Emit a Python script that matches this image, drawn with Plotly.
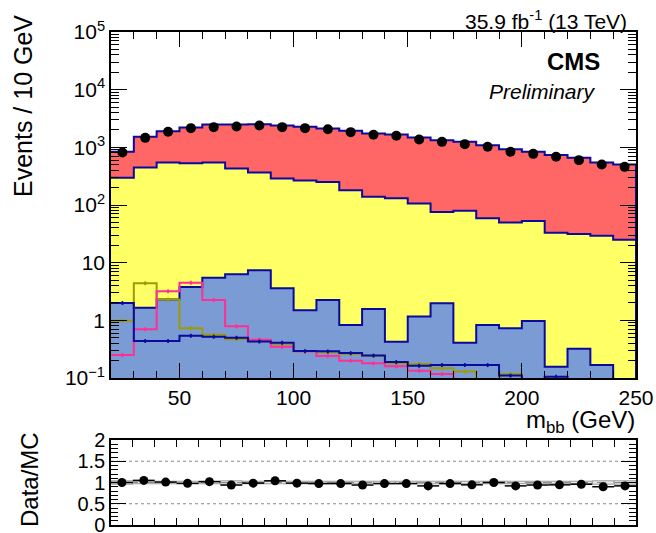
import numpy as np
import plotly.graph_objects as go

# ---------------- binning ----------------
bin_edges = np.arange(20, 251, 10)            # m_bb bins, 10 GeV wide
bin_centers = (bin_edges[:-1] + bin_edges[1:]) / 2

# ---------------- stacked backgrounds (events / bin) ----------------
blue_component = [2.0, 1.65, 2.3, 3.8, 5.5, 6.3, 7.4, 3.6, 1.5, 2.25, 0.83, 1.58,
                  0.425, 1.16, 1.97, 0.41, 0.83, 0.73, 0.97, 0.157, 0.32, 0.168, 0.05]
yellow_component = [294, 446, 545, 528, 541, 425, 360, 285, 265, 248, 180, 137,
                    130, 105, 74, 79, 58, 49, 52, 33, 31, 29, 25]
red_component = [540, 1072, 1362, 1681, 1948, 2064, 2156, 2104, 1998, 1873, 1751, 1603,
                 1541, 1377, 1257, 1166, 1033, 881, 783, 700, 627, 518, 480]

# ---------------- unstacked overlays ----------------
olive_hist = [0.98, 4.4, 2.3, 0.73, 0.56, 0.47, 0.45, 0.39, 0.29, 0.28, 0.26, 0.245,
              0.18, 0.175, 0.147, 0.13, 0.09, 0.117, 0.06, 0.05, 0.05, 0.05, 0.05]
pink_hist = [0.25, 0.70, 3.2, 4.5, 2.25, 0.79, 0.46, 0.35, 0.29, 0.24, 0.20, 0.18,
             0.16, 0.134, 0.117, 0.09, 0.08, 0.07, 0.06, 0.05, 0.05, 0.05, 0.05]
navy_hist = [2.0, 0.44, 0.44, 0.54, 0.52, 0.50, 0.43, 0.41, 0.293, 0.29, 0.27, 0.245,
             0.19, 0.163, 0.168, 0.168, 0.168, 0.11, 0.09, 0.105, 0.08, 0.07, 0.07]

# ---------------- observed data ----------------
data_counts = [815, 1460, 1857, 2150, 2240, 2300, 2395, 2240, 2150, 2060, 1833, 1648,
               1585, 1371, 1245, 1135, 1021, 836, 771, 685, 600, 505, 459]

# ---------------- ratio panel ----------------
ratio_edges = np.arange(20, 261, 10)
ratio_centers = (ratio_edges[:-1] + ratio_edges[1:]) / 2
ratio_values = [1.0, 1.05, 1.01, 0.98, 1.02, 0.94, 0.985, 1.04, 0.985, 0.975, 0.975, 0.94,
                0.975, 0.975, 0.92, 0.975, 0.945, 1.0, 0.92, 0.94, 0.945, 0.96, 0.90, 0.92]
ratio_mc_unc = [0.04, 0.03, 0.03, 0.03, 0.03, 0.04, 0.03, 0.03, 0.03, 0.03, 0.03, 0.03,
                0.03, 0.03, 0.03, 0.03, 0.03, 0.03, 0.03, 0.03, 0.03, 0.03, 0.04, 0.04]

FONT = "Liberation Sans, Arial, Helvetica, sans-serif"
RED = "#ff6666"
YELLOW = "#ffff66"
BLUE = "#7b9bd4"
NAVY = "#0a0a9c"
PINK = "#ff2f96"
OLIVE = "#9c9c00"
FLOOR = 1e-3

W, H = 656, 533
def px_x(p):
    return p / W
def px_y(p):
    return 1 - p / H

fig = go.Figure()

# cumulative stack tops
cum_blue = np.array(blue_component, float)
cum_yellow = cum_blue + np.array(yellow_component, float)
cum_red = cum_yellow + np.array(red_component, float)


def filled_step(values, fill, name):
    xs = list(bin_edges) + [bin_edges[-1], bin_edges[0]]
    ys = list(values) + [values[-1], FLOOR, FLOOR]
    return go.Scatter(x=xs, y=ys, mode="lines", line=dict(shape="hv", color=NAVY, width=2),
                      fill="toself", fillcolor=fill, name=name, showlegend=False,
                      xaxis="x", yaxis="y", hoverinfo="skip")


fig.add_trace(filled_step(cum_red, RED, "red"))
fig.add_trace(filled_step(cum_yellow, YELLOW, "yellow"))
fig.add_trace(filled_step(cum_blue, BLUE, "blue"))


def line_step(values, color, name):
    xs = list(bin_edges)
    ys = list(values) + [values[-1]]
    step = go.Scatter(x=xs, y=ys, mode="lines", line=dict(shape="hv", color=color, width=2),
                      showlegend=False, name=name, xaxis="x", yaxis="y", hoverinfo="skip")
    errs = go.Scatter(x=bin_centers, y=values, mode="markers",
                      marker=dict(size=3, color=color),
                      error_y=dict(type="percent", value=8, color=color, thickness=1.5, width=0),
                      showlegend=False, xaxis="x", yaxis="y", hoverinfo="skip")
    return [step, errs]


for tr in line_step(olive_hist, OLIVE, "olive"):
    fig.add_trace(tr)
for tr in line_step(pink_hist, PINK, "pink"):
    fig.add_trace(tr)
for tr in line_step(navy_hist, NAVY, "navy"):
    fig.add_trace(tr)

# data points
fig.add_trace(go.Scatter(x=bin_centers, y=data_counts, mode="markers",
                         marker=dict(size=10, color="black"), showlegend=False,
                         xaxis="x", yaxis="y", name="Data"))

# ratio panel: MC uncertainty boxes, then data/MC points
fig.add_trace(go.Bar(x=ratio_centers, y=[2 * u for u in ratio_mc_unc],
                     base=[1 - u for u in ratio_mc_unc], width=10,
                     marker=dict(color="rgba(210,210,210,0.5)", line=dict(color="#999999", width=1)),
                     showlegend=False, xaxis="x2", yaxis="y2", hoverinfo="skip"))
fig.add_trace(go.Scatter(x=ratio_centers, y=ratio_values, mode="markers",
                         marker=dict(size=9, color="black"),
                         error_x=dict(type="constant", value=5, color="black", thickness=1.5, width=0),
                         error_y=dict(type="constant", value=0.02, color="black", thickness=1.5, width=0),
                         showlegend=False, xaxis="x2", yaxis="y2", name="Data/MC"))

# y tick labels on the log axis
decades = [-1, 0, 1, 2, 3, 4, 5]
major_y = [10.0 ** d for d in decades]
major_y_text = ["10<sup>\u22121</sup>", "1", "10", "10<sup>2</sup>", "10<sup>3</sup>",
                "10<sup>4</sup>", "10<sup>5</sup>"]
minor_y = [m * 10.0 ** d for d in decades[:-1] for m in range(2, 10)]

x_dom = [px_x(111), px_x(636)]

fig.update_layout(
    width=W, height=H,
    margin=dict(l=0, r=0, t=0, b=0, autoexpand=False),
    paper_bgcolor="white", plot_bgcolor="white",
    font=dict(family=FONT, color="black", size=20),
    barmode="overlay",
    xaxis=dict(domain=x_dom, anchor="y", range=[20, 250], automargin=False,
               tickmode="linear", tick0=0, dtick=50, ticklabeloverflow="allow",
               ticks="inside", ticklen=15, tickwidth=1.3, tickcolor="black",
               minor=dict(ticks="inside", ticklen=7, dtick=10, tick0=0, tickcolor="black", tickwidth=1.3),
               showline=True, linecolor="black", linewidth=1.5, mirror="allticks",
               showgrid=False, zeroline=False,
               tickfont=dict(size=21, family=FONT)),
    yaxis=dict(domain=[px_y(378), px_y(32)], anchor="x", type="log", range=[-1, 5], automargin=False,
               tickmode="array", tickvals=major_y, ticktext=major_y_text, ticklabeloverflow="allow",
               ticks="inside", ticklen=16, tickwidth=1.3, tickcolor="black",
               minor=dict(ticks="inside", ticklen=8, tickvals=minor_y, tickcolor="black", tickwidth=1.3),
               showline=True, linecolor="black", linewidth=1.5, mirror="allticks",
               showgrid=False, zeroline=False,
               tickfont=dict(size=21, family=FONT)),
    xaxis2=dict(domain=x_dom, anchor="y2", range=[20, 260], automargin=False,
                tickmode="linear", tick0=0, dtick=10,
                ticks="inside", ticklen=7, tickwidth=1.3, tickcolor="black",
                showticklabels=False,
                showline=True, linecolor="black", linewidth=1.5, mirror="allticks",
                showgrid=False, zeroline=False),
    yaxis2=dict(domain=[px_y(525), px_y(440)], anchor="x2", range=[0, 2], automargin=False,
                tickmode="array", tickvals=[0, 0.5, 1, 1.5, 2],
                ticktext=["0", "0.5", "1", "1.5", "2"], ticklabeloverflow="allow",
                ticks="inside", ticklen=15, tickwidth=1.3, tickcolor="black",
                minor=dict(ticks="inside", ticklen=7, dtick=0.1, tick0=0, tickcolor="black", tickwidth=1.3),
                showline=True, linecolor="black", linewidth=1.5, mirror="allticks",
                showgrid=False, zeroline=False,
                tickfont=dict(size=20, family=FONT)),
)

# reference lines in the ratio panel
for yv, dash, col in [(0.5, "dot", "#888888"), (1.5, "dot", "#888888"), (1.0, "dash", "#444444")]:
    fig.add_shape(type="line", xref="x2 domain", yref="y2", x0=0, x1=1, y0=yv, y1=yv,
                  line=dict(color=col, width=1, dash=dash), layer="below")

annotations = [
    dict(text="35.9 fb<sup>-1</sup> (13 TeV)", x=px_x(629), y=px_y(20), xanchor="right",
         yanchor="middle", font=dict(size=21)),
    dict(text="<b>CMS</b>", x=px_x(602), y=px_y(62), xanchor="right", yanchor="middle",
         font=dict(size=24)),
    dict(text="<i>Preliminary</i>", x=px_x(598), y=px_y(92), xanchor="right", yanchor="middle",
         font=dict(size=21)),
    dict(text="m<sub>bb</sub> (GeV)", x=px_x(637), y=px_y(421), xanchor="right",
         yanchor="middle", font=dict(size=24)),
    dict(text="Events / 10 GeV", x=px_x(23), y=px_y(106), xanchor="center", yanchor="middle",
         textangle=-90, font=dict(size=25)),
    dict(text="Data/MC", x=px_x(29), y=px_y(480), xanchor="center", yanchor="middle",
         textangle=-90, font=dict(size=24)),
]
for a in annotations:
    fig.add_annotation(xref="paper", yref="paper", showarrow=False, **a)

fig.write_html("out.html")
